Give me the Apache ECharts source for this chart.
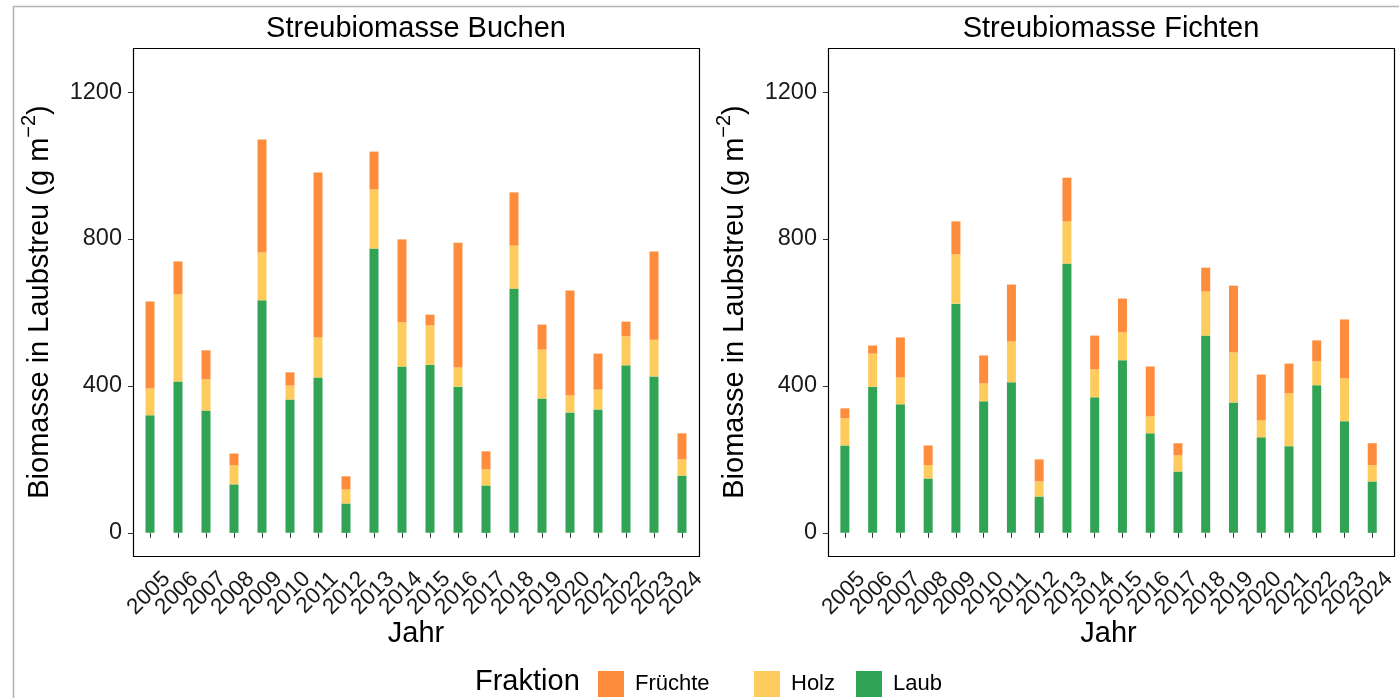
<!DOCTYPE html>
<html>
<head>
<meta charset="utf-8">
<script src="https://cdn.jsdelivr.net/npm/echarts@6/dist/echarts.min.js"></script>
<style>
html,body{margin:0;padding:0;background:#fff;}
#chart{width:1399px;height:698px;}
</style>
</head>
<body>
<div id="chart"></div>
<script>
const years = ['2005','2006','2007','2008','2009','2010','2011','2012','2013','2014','2015','2016','2017','2018','2019','2020','2021','2022','2023','2024'];
const buchenLaub = [320,412,333,132,633,363,423,80,774,453,458,398,129,665,366,328,336,456,426,156];
const buchenHolz = [73,237,85,52,130,38,109,38,161,120,107,52,44,117,133,46,54,79,100,44];
const buchenFruechte = [237,90,79,32,308,36,449,36,103,226,29,340,49,145,68,286,98,40,240,71];
const fichtenLaub = [238,398,350,148,624,358,410,99,733,369,470,271,167,537,355,260,236,402,304,140];
const fichtenHolz = [74,90,73,36,134,49,111,41,115,76,76,46,44,120,136,46,144,65,117,44];
const fichtenFruechte = [27,22,109,54,90,76,155,60,119,92,92,136,33,65,182,125,81,57,160,60];
const yTicks = [0,400,800,1200];
const panelTitles = ['Streubiomasse Buchen','Streubiomasse Fichten'];
const fractions = ['Früchte','Holz','Laub'];
const colors = {'Früchte':'#fd8d3c','Holz':'#fecc5c','Laub':'#31a354'};

const FONT = 'Liberation Sans, Arial, sans-serif';
const chart = echarts.init(document.getElementById('chart'), null, {renderer:'canvas'});

const gridLefts = [136, 831];
const frameLefts = [133, 828];

function xAxis(i){
  return {
    type:'category', gridIndex:i, data:years,
    name:'Jahr', nameLocation:'middle', nameGap:63, nameMoveOverlap:false,
    nameTextStyle:{fontFamily:FONT, fontSize:29, color:'#000'},
    axisLine:{show:false},
    axisTick:{show:true, alignWithLabel:true, interval:0, length:5, lineStyle:{color:'#333', width:1}},
    axisLabel:{interval:0, rotate:45, fontFamily:FONT, fontSize:22.5, color:'#1a1a1a', margin:3, align:'right', verticalAlign:'top', padding:[12,0,0,0]},
    splitLine:{show:false}
  };
}
function yAxis(i){
  return {
    type:'value', gridIndex:i, min:-63, max:1320, offset:3,
    name:'{b|Biomasse in Laubstreu (g m}{s|−2}{b|)}',
    nameLocation:'middle', nameRotate:90, nameGap:79,
    nameTextStyle:{fontFamily:FONT, fontSize:29, color:'#000',
      rich:{b:{fontFamily:FONT, fontSize:29, color:'#000', lineHeight:35, verticalAlign:'bottom'},
            s:{fontFamily:FONT, fontSize:20, color:'#000', lineHeight:35, verticalAlign:'top'}}},
    axisLine:{show:false},
    axisTick:{show:true, length:5, customValues:yTicks, lineStyle:{color:'#333', width:1}},
    axisLabel:{fontFamily:FONT, fontSize:23.5, color:'#1a1a1a', margin:11, customValues:yTicks, formatter:v => String(v)},
    splitLine:{show:false}
  };
}
function bar(name, data, i){
  return {
    type:'bar', name:name, data:data, xAxisIndex:i, yAxisIndex:i, stack:'s'+i,
    barWidth:9, itemStyle:{color:colors[name]}, emphasis:{disabled:true}
  };
}

const legendLefts = {'Früchte':593,'Holz':749,'Laub':851};
const legends = fractions.map(f => ({
  data:[f], left:legendLefts[f], top:666, orient:'horizontal',
  icon:'rect', itemWidth:26, itemHeight:26,
  textStyle:{fontFamily:FONT, fontSize:22, color:'#000', padding:[0,0,0,6]}
}));

const option = {
  animation:false,
  backgroundColor:'#fff',
  title:[
    {text:panelTitles[0], left:416, top:14, padding:0, textAlign:'center', textStyle:{fontFamily:FONT, fontSize:29, fontWeight:'normal', color:'#000'}},
    {text:panelTitles[1], left:1111, top:14, padding:0, textAlign:'center', textStyle:{fontFamily:FONT, fontSize:29, fontWeight:'normal', color:'#000'}},
    {text:'Fraktion', left:475, top:667, padding:0, textStyle:{fontFamily:FONT, fontSize:29, fontWeight:'normal', color:'#000'}}
  ],
  legend:legends,
  grid:[
    {left:gridLefts[0], top:48, width:560, height:508},
    {left:gridLefts[1], top:48, width:560, height:508}
  ],
  xAxis:[xAxis(0), xAxis(1)],
  yAxis:[yAxis(0), yAxis(1)],
  series:[
    bar('Laub', buchenLaub, 0), bar('Holz', buchenHolz, 0), bar('Früchte', buchenFruechte, 0),
    bar('Laub', fichtenLaub, 1), bar('Holz', fichtenHolz, 1), bar('Früchte', fichtenFruechte, 1)
  ],
  graphic:[
    {type:'rect', shape:{x:13.5, y:6.5, width:1420, height:720}, style:{fill:null, stroke:'#b3b3b3', lineWidth:1.5}, silent:true, z:-1},
    {type:'rect', shape:{x:frameLefts[0]+0.5, y:48.5, width:566, height:508}, style:{fill:null, stroke:'#000', lineWidth:1.2}, silent:true, z:10},
    {type:'rect', shape:{x:frameLefts[1]+0.5, y:48.5, width:566, height:508}, style:{fill:null, stroke:'#000', lineWidth:1.2}, silent:true, z:10}
  ]
};
chart.setOption(option);
</script>
</body>
</html>
